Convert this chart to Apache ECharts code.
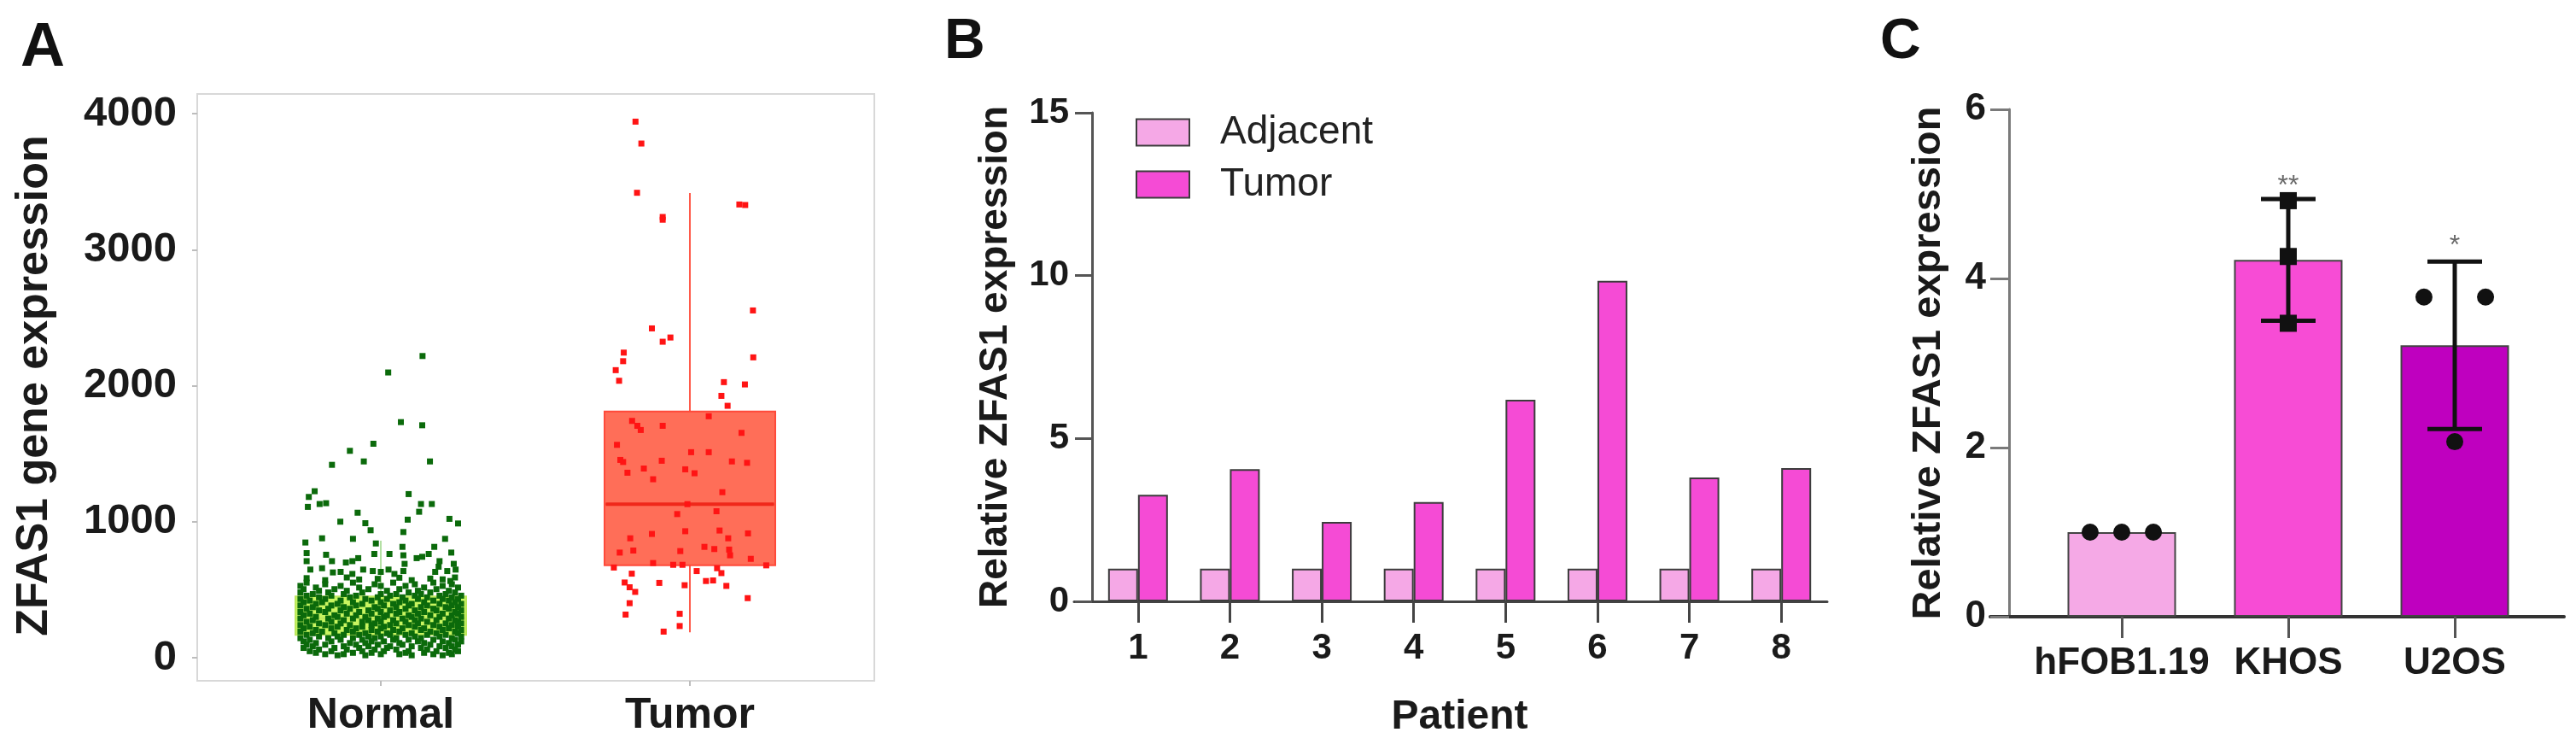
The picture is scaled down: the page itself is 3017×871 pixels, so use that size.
<!DOCTYPE html>
<html>
<head>
<meta charset="utf-8">
<script src="https://cdn.jsdelivr.net/npm/echarts@6/dist/echarts.min.js"></script>
<style>html,body{margin:0;padding:0;background:#fff}#c{width:3017px;height:871px}</style>
</head>
<body>
<div id="c"></div>
<script>
// ---------------- Panel A data ----------------
const groupsA = ['Normal', 'Tumor'];
const yTicksA = [0, 1000, 2000, 3000, 4000];
// box stats: [whiskerMin, Q1, median, Q3, whiskerMax]
const normalBox = [20, 168, 290, 451, 860];
const tumorBox = [187, 679, 1129, 1810, 3416];
// sparse normal points [jitter offset (category units), value]
const normalSparse = [
  [0.135,2218],[0.024,2097],[0.065,1732],[0.134,1709],[-0.024,1573],[-0.1,1521],[-0.055,1443],[-0.158,1418],[0.159,1443],
  [-0.214,1224],[-0.233,1182],[-0.236,1109],[-0.198,1130],[-0.177,1136],[0.09,1203],[0.13,1130],[0.165,1130],[0.124,1073],
  [-0.075,1066],[-0.131,1000],[-0.05,989],[-0.033,937],[0.087,1015],[0.073,924],[0.222,1021],[0.25,987],
  [-0.19,878],[-0.09,874],[-0.244,847],[0.208,874],[0.173,815],[-0.016,840],
  [-0.24,769],[-0.24,710],[-0.177,757],[-0.158,710],[-0.113,700],[-0.092,710],[-0.073,732],[-0.021,763],[0.028,763],
  [0.07,815],[0.073,753],[0.077,690],[0.116,732],[0.134,742],[0.155,763],[0.19,710],[0.187,669],[0.228,773],[0.236,690],[0.242,648],
  [-0.228,648],[-0.19,658],[-0.155,627],[-0.13,631],[-0.092,616],[-0.057,648],[-0.026,637],[0.0,631],[0.025,648],[0.044,616],
  [0.073,637],[0.176,631],[0.215,637],[0.225,564],
  [-0.24,585],[-0.18,570],[-0.11,590],[-0.07,575],[-0.01,580],[0.06,588],[0.1,570],[0.16,582],[0.2,576],[0.24,590]
];
// dense normal rows: [value, jitter offsets in 1/100 category units...]
const normalDenseRows = [
  [552,-24,-9,4,17],[540,-18,-2,11,23],[528,-26,-13,0,8,20],[516,-21,-7,14,25],[504,-25,-15,-4,6,18],
  [492,-20,-11,2,12,22],[480,-26,-17,-6,9,16,24],[468,-22,-12,0,5,13,21],[456,-24,-16,-8,3,11,19,26],
  [444,-20,-10,-1,7,15,23],[432,-26,-18,-5,2,12,20,25],[420,-23,-13,-3,8,17,22],[408,-25,-19,-9,0,6,14,24],
  [396,-21,-14,-6,4,10,19,26],[384,-26,-16,-8,1,9,15,23],[372,-22,-12,-2,5,13,21,25],[360,-24,-17,-10,-1,8,17,22],
  [348,-20,-13,-4,3,11,18,26],[336,-26,-18,-7,0,6,14,24],[324,-23,-11,-3,5,12,20,25],[312,-25,-15,-8,2,9,16,23],
  [300,-21,-14,-5,1,10,19,26],[288,-26,-17,-9,-1,7,13,22],[276,-22,-12,-4,4,11,18,24],[264,-24,-16,-6,0,8,15,25],
  [252,-20,-13,-2,5,12,21,26],[240,-26,-18,-10,-3,3,9,17,23],[228,-23,-14,-6,1,11,19,25],[216,-25,-16,-8,0,7,14,22],
  [204,-21,-11,-3,4,13,20,26],[192,-26,-19,-9,-1,6,16,24],[180,-22,-15,-5,2,10,18,25],[168,-24,-12,-7,3,8,15,21],
  [156,-20,-14,-4,0,11,19,26],[144,-26,-17,-9,-2,5,13,23],[132,-23,-13,-6,4,9,17,24],[120,-25,-16,-3,1,12,20,26],
  [108,-21,-10,-5,6,14,22],[96,-24,-18,-8,-1,7,16,25],[84,-22,-12,-4,3,10,19,23],[72,-25,-15,-7,2,13,21],
  [60,-20,-11,-2,5,15,24],[48,-23,-16,-6,1,9,18,25],[36,-21,-9,-3,8,14,22],[26,-18,-12,0,6,17,23],[18,-14,-5,10,20]
];
// tumor points [jitter offset, value]
const tumorPoints = [
  [-0.176,3941],[-0.157,3780],[-0.171,3418],[-0.088,3240],[-0.088,3220],[0.16,3332],[0.179,3328],[0.204,2553],[-0.123,2421],
  [-0.088,2323],[-0.063,2354],[-0.214,2243],[-0.216,2180],[-0.24,2114],[-0.229,2036],[0.205,2208],[0.11,2026],[0.178,2009],
  [0.102,1925],[0.122,1852],[0.061,1775],
  [-0.187,1741],[-0.17,1705],[-0.159,1674],[-0.088,1705],[0.167,1653],[-0.236,1565],[0.004,1511],[0.061,1511],[-0.225,1454],
  [-0.216,1439],[-0.091,1448],[0.136,1443],[0.185,1433],[-0.149,1391],[-0.015,1385],[0.015,1356],[-0.202,1360],[-0.119,1312],
  [0.105,1217],[-0.008,1129],[-0.041,1056],[0.086,1077],
  [-0.193,878],[-0.123,910],[-0.015,930],[0.096,935],[0.124,878],[0.188,914],
  [-0.227,773],[-0.183,788],[-0.031,784],[0.047,815],[0.079,799],[0.127,795],[0.13,753],[0.197,727],
  [-0.246,663],[-0.119,696],[-0.054,683],[-0.024,683],[0.022,637],[0.088,658],[0.102,622],[0.247,679],
  [-0.188,618],[-0.211,553],[-0.195,518],[-0.177,484],[-0.099,550],[-0.017,533],[0.052,564],[0.075,568],[0.118,528],
  [-0.195,401],[-0.208,317],[-0.033,323],[-0.033,233],[-0.085,192],[0.187,438]
];

// ---------------- Panel B data ----------------
const patients = ['1', '2', '3', '4', '5', '6', '7', '8'];
const adjacentVals = [1, 1, 1, 1, 1, 1, 1, 1];
const tumorVals = [3.27, 4.06, 2.44, 3.05, 6.19, 9.84, 3.8, 4.09];
const yTicksB = [0, 5, 10, 15];

// ---------------- Panel C data ----------------
const cellLines = ['hFOB1.19', 'KHOS', 'U2OS'];
const cellMeans = [1.0, 4.22, 3.21];
const errLow = [null, 3.5, 2.22];
const errHigh = [null, 4.94, 4.2];
const cellDots = [
  [[-0.19, 1.0], [0, 1.0], [0.19, 1.0]],
  [[0, 4.92], [0, 4.26], [0, 3.47]],
  [[-0.185, 3.78], [0.185, 3.78], [0, 2.07]]
];
const sigMarks = ['', '**', '*'];
const sigY = [null, 5.09, 4.38];
const yTicksC = [0, 2, 4, 6];

// ---------------- build ----------------
const FONT = '"Liberation Sans", Arial, Helvetica, sans-serif';
const TXT = '#1a1a1a';

const normalPoints = normalSparse.concat(
  normalDenseRows.flatMap(r => r.slice(1).map(o => [o / 100, r[0]]))
);
const tumorXY = tumorPoints.map(p => [1 + p[0], p[1]]);

const cellColors = ['#f5a9e6', '#f74cd5', '#bf00bf'];
const dotSymbols = ['circle', 'rect', 'circle'];
const dotData = [];
cellDots.forEach((grp, i) => grp.forEach(p => dotData.push({ value: [i + p[0], p[1]], symbol: dotSymbols[i] })));
const errData = [];
cellLines.forEach((c, i) => { if (errLow[i] != null) errData.push([i, errLow[i], errHigh[i]]); });
const sigData = [];
cellLines.forEach((c, i) => { if (sigMarks[i]) sigData.push({ name: sigMarks[i], value: [i, sigY[i]] }); });

const hidden = { show: false };
const noLine = { show: false, onZero: false };
const plain = v => String(v);
const boldLbl = (size, margin) => ({ fontSize: size, fontWeight: 'bold', color: TXT, fontFamily: FONT, margin: margin,
  interval: 0, hideOverlap: false, formatter: plain });

const chart = echarts.init(document.getElementById('c'), null, { renderer: 'canvas' });
chart.setOption({
  animation: false,
  backgroundColor: '#ffffff',
  textStyle: { fontFamily: FONT },
  title: [
    { text: 'A', left: 24, top: 21, padding: 0, textStyle: { fontSize: 72, fontWeight: 'bold', color: '#111', fontFamily: FONT } },
    { text: 'B', left: 1106, top: 17, padding: 0, textStyle: { fontSize: 66, fontWeight: 'bold', color: '#111', fontFamily: FONT } },
    { text: 'C', left: 2202, top: 17, padding: 0, textStyle: { fontSize: 66, fontWeight: 'bold', color: '#111', fontFamily: FONT } }
  ],
  legend: {
    data: ['Adjacent', 'Tumor'], orient: 'vertical', left: 1330, top: 132, padding: 0,
    itemWidth: 62, itemHeight: 31, itemGap: 15, icon: 'rect', selectedMode: false,
    textStyle: { fontSize: 46, color: '#222', fontFamily: FONT, padding: [0, 0, 0, 31], lineHeight: 31 }
  },
  grid: [
    { left: 231, top: 110, width: 793, height: 687, show: true, backgroundColor: 'rgba(0,0,0,0)', borderColor: '#d8d8d8', borderWidth: 2, outerBoundsMode: 'none' },
    { left: 265, top: 133, width: 724, height: 637, outerBoundsMode: 'none' },
    { left: 1279, top: 132, width: 861, height: 572, outerBoundsMode: 'none' },
    { left: 1258, top: 132, width: 882, height: 572, outerBoundsMode: 'none' },
    { left: 2387.5, top: 128, width: 585, height: 594, outerBoundsMode: 'none' },
    { left: 2331, top: 128, width: 672, height: 594, outerBoundsMode: 'none' }
  ],
  xAxis: [
    { gridIndex: 0, type: 'value', min: 0, max: 1, show: false },
    { gridIndex: 1, type: 'category', data: groupsA, offset: 27,
      axisLine: noLine, axisTick: { show: true, alignWithLabel: true, length: 6, lineStyle: { color: '#bdbdbd', width: 2 } },
      axisLabel: boldLbl(50, 16), splitLine: hidden },
    { gridIndex: 1, type: 'value', min: -0.5, max: 1.5, show: false, axisLine: noLine },
    { gridIndex: 2, type: 'category', data: patients,
      axisLine: noLine, axisTick: { show: true, alignWithLabel: true, length: 25, lineStyle: { color: '#444', width: 3 } },
      axisLabel: boldLbl(42, 34), splitLine: hidden,
      name: 'Patient', nameLocation: 'middle', nameGap: 112,
      nameTextStyle: { fontSize: 48, fontWeight: 'bold', color: TXT, fontFamily: FONT } },
    { gridIndex: 3, type: 'value', min: 0, max: 1, axisLine: { show: true, onZero: false, lineStyle: { color: '#444', width: 3 } },
      axisTick: hidden, axisLabel: hidden, splitLine: hidden },
    { gridIndex: 4, type: 'category', data: cellLines,
      axisLine: noLine, axisTick: { show: true, alignWithLabel: true, length: 25, lineStyle: { color: '#555', width: 3 } },
      axisLabel: boldLbl(44, 33), splitLine: hidden },
    { gridIndex: 4, type: 'value', min: -0.5, max: 2.5, show: false, axisLine: noLine },
    { gridIndex: 5, type: 'value', min: 0, max: 1, axisLine: { show: true, onZero: false, lineStyle: { color: '#333', width: 4 } },
      axisTick: hidden, axisLabel: hidden, splitLine: hidden }
  ],
  yAxis: [
    { gridIndex: 0, type: 'value', min: 0, max: 1, show: false, axisLine: noLine },
    { gridIndex: 1, type: 'value', min: yTicksA[0], max: yTicksA[yTicksA.length - 1], interval: yTicksA[1] - yTicksA[0], offset: 34,
      axisLine: noLine, axisTick: { show: true, length: 6, lineStyle: { color: '#bdbdbd', width: 2 } },
      axisLabel: boldLbl(49, 24), splitLine: hidden,
      name: 'ZFAS1 gene expression', nameLocation: 'middle', nameGap: 164,
      nameTextStyle: { fontSize: 52, fontWeight: 'bold', color: TXT, fontFamily: FONT } },
    { gridIndex: 2, type: 'value', min: yTicksB[0], max: yTicksB[yTicksB.length - 1], interval: yTicksB[1] - yTicksB[0],
      axisLine: { show: true, onZero: false, lineStyle: { color: '#555', width: 3 } },
      axisTick: { show: true, length: 20, lineStyle: { color: '#555', width: 3 } },
      axisLabel: boldLbl(42, 27), splitLine: hidden,
      name: 'Relative ZFAS1 expression', nameLocation: 'middle', nameGap: 90,
      nameTextStyle: { fontSize: 46, fontWeight: 'bold', color: TXT, fontFamily: FONT } },
    { gridIndex: 3, type: 'value', min: 0, max: 1, show: false, axisLine: noLine },
    { gridIndex: 4, type: 'value', min: yTicksC[0], max: yTicksC[yTicksC.length - 1], interval: yTicksC[1] - yTicksC[0], offset: 34.5,
      axisLine: { show: true, onZero: false, lineStyle: { color: '#7a7a7a', width: 3 } },
      axisTick: { show: true, length: 22, lineStyle: { color: '#7a7a7a', width: 3 } },
      axisLabel: boldLbl(44, 27), splitLine: hidden,
      name: 'Relative ZFAS1 expression', nameLocation: 'middle', nameGap: 70,
      nameTextStyle: { fontSize: 47, fontWeight: 'bold', color: TXT, fontFamily: FONT } },
    { gridIndex: 5, type: 'value', min: 0, max: 1, show: false, axisLine: noLine }
  ],
  series: [
    // ---- A ----
    { type: 'line', name: 'nw', xAxisIndex: 2, yAxisIndex: 1, z: 1, symbol: 'none',
      data: [[0, normalBox[0]], [0, normalBox[4]]], lineStyle: { color: '#b4e0a4', width: 2 } },
    { type: 'line', name: 'tw', xAxisIndex: 2, yAxisIndex: 1, z: 1, symbol: 'none',
      data: [[1, tumorBox[0]], [1, tumorBox[4]]], lineStyle: { color: '#ff5a4a', width: 2 } },
    { type: 'boxplot', name: 'box', xAxisIndex: 1, yAxisIndex: 1, z: 2, boxWidth: [200, 200],
      data: [
        { value: [normalBox[1], normalBox[1], normalBox[2], normalBox[3], normalBox[3]],
          itemStyle: { color: '#c8f560', borderColor: '#bde85e', borderWidth: 2 } },
        { value: [tumorBox[1], tumorBox[1], tumorBox[2], tumorBox[3], tumorBox[3]],
          itemStyle: { color: '#ff6e58', borderColor: '#ff4a3a', borderWidth: 2 } }
      ] },
    { type: 'line', name: 'tm', xAxisIndex: 2, yAxisIndex: 1, z: 3, symbol: 'none',
      data: [[1 - 0.272, tumorBox[2]], [1 + 0.272, tumorBox[2]]], lineStyle: { color: '#f0281a', width: 4 } },
    { type: 'scatter', name: 'normalPts', xAxisIndex: 2, yAxisIndex: 1, z: 4, symbol: 'rect', symbolSize: 7,
      data: normalPoints, itemStyle: { color: '#0b6a0b', opacity: 1 } },
    { type: 'scatter', name: 'tumorPts', xAxisIndex: 2, yAxisIndex: 1, z: 4, symbol: 'rect', symbolSize: 7,
      data: tumorXY, itemStyle: { color: '#ff1414', opacity: 1 } },
    // ---- B ----
    { type: 'bar', name: 'Adjacent', xAxisIndex: 3, yAxisIndex: 2, data: adjacentVals, barWidth: 35, barGap: '0%',
      itemStyle: { color: '#f5a8e6', borderColor: '#3c3c3c', borderWidth: 2 } },
    { type: 'bar', name: 'Tumor', xAxisIndex: 3, yAxisIndex: 2, data: tumorVals, barWidth: 35, barGap: '0%',
      itemStyle: { color: '#f54bd5', borderColor: '#3c3c3c', borderWidth: 2 } },
    // ---- C ----
    { type: 'bar', name: 'cells', xAxisIndex: 5, yAxisIndex: 4, barWidth: 127,
      data: cellMeans.map((v, i) => ({ value: v, itemStyle: { color: cellColors[i] } })),
      itemStyle: { borderColor: '#444', borderWidth: 2 } },
    { type: 'custom', name: 'err', xAxisIndex: 5, yAxisIndex: 4, z: 4, data: errData,
      encode: { x: 0, y: [1, 2] },
      renderItem: function (params, api) {
        const x = api.value(0);
        const lo = api.coord([x, api.value(1)]);
        const hi = api.coord([x, api.value(2)]);
        const hw = 32;
        const st = { stroke: '#111', lineWidth: 5 };
        return { type: 'group', children: [
          { type: 'line', shape: { x1: lo[0], y1: lo[1], x2: hi[0], y2: hi[1] }, style: st },
          { type: 'line', shape: { x1: lo[0] - hw, y1: lo[1], x2: lo[0] + hw, y2: lo[1] }, style: st },
          { type: 'line', shape: { x1: hi[0] - hw, y1: hi[1], x2: hi[0] + hw, y2: hi[1] }, style: st }
        ] };
      } },
    { type: 'scatter', name: 'dots', xAxisIndex: 6, yAxisIndex: 4, z: 5, symbolSize: 20,
      data: dotData, itemStyle: { color: '#111', opacity: 1 } },
    { type: 'scatter', name: 'sig', xAxisIndex: 5, yAxisIndex: 4, z: 6, symbolSize: 1,
      itemStyle: { color: 'rgba(0,0,0,0)' }, data: sigData,
      label: { show: true, position: 'inside', formatter: '{b}', fontSize: 32, color: '#444', fontFamily: FONT } }
  ]
});
</script>
</body>
</html>
